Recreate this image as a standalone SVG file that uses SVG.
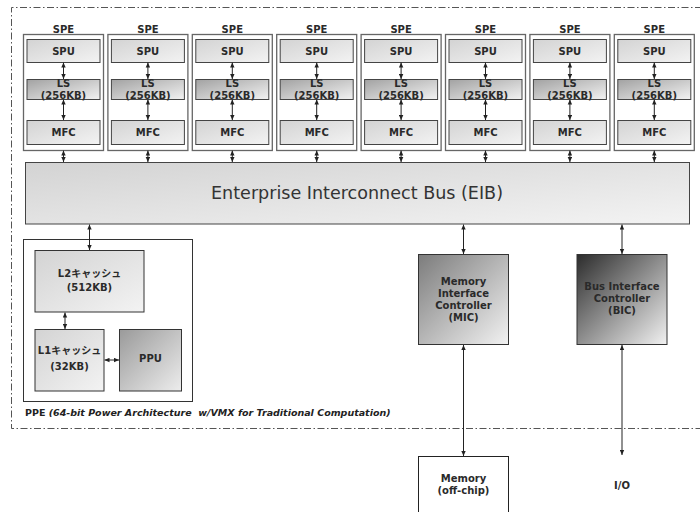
<svg xmlns="http://www.w3.org/2000/svg" width="700" height="512" viewBox="0 0 700 512">
  <defs>
    <linearGradient id="gLight" x1="0" y1="0" x2="1" y2="1">
      <stop offset="0" stop-color="#d3d3d3"/>
      <stop offset="1" stop-color="#f3f3f3"/>
    </linearGradient>
    <linearGradient id="gMid" x1="0" y1="0" x2="1" y2="1">
      <stop offset="0" stop-color="#a2a2a2"/>
      <stop offset="1" stop-color="#f2f2f2"/>
    </linearGradient>
    <linearGradient id="gPpu" x1="0" y1="0" x2="1" y2="1">
      <stop offset="0" stop-color="#9a9a9a"/>
      <stop offset="1" stop-color="#ededed"/>
    </linearGradient>
    <linearGradient id="gMic" x1="0" y1="0" x2="1" y2="1">
      <stop offset="0" stop-color="#7c7c7c"/>
      <stop offset="1" stop-color="#f2f2f2"/>
    </linearGradient>
    <linearGradient id="gBic" x1="0" y1="0" x2="1" y2="1">
      <stop offset="0" stop-color="#2c2c2c"/>
      <stop offset="1" stop-color="#f2f2f2"/>
    </linearGradient>
    <marker id="ah" viewBox="0 0 5 5" refX="5" refY="2.5" markerWidth="5" markerHeight="5" markerUnits="userSpaceOnUse" orient="auto-start-reverse">
      <path d="M0,0.3 L5,2.5 L0,4.7 z" fill="#222"/>
    </marker>
    <style>
      .lbl { font-family: "DejaVu Sans", "Noto Sans CJK JP", sans-serif; font-weight: bold; font-size: 10px; fill: #2a2a2a; text-anchor: middle; }
      .spe { fill: #fff; stroke: #666; stroke-width: 1.3; }
      .unit { fill: url(#gLight); stroke: #444; stroke-width: 1; }
      .ls { fill: url(#gMid); stroke: #444; stroke-width: 1; }
      .box { stroke: #333; stroke-width: 1; }
      .wire { stroke: #222; stroke-width: 1; fill: none; marker-start: url(#ah); marker-end: url(#ah); }
    </style>
  </defs>

  <rect width="700" height="512" fill="#fff"/>

  <!-- chip boundary (dash-dot) -->
  <path d="M702,7.5 H11.5 V428.5 H702" fill="none" stroke="#555" stroke-width="1" stroke-dasharray="7 2.5 1.5 2.5"/>

  <!-- eight SPE blocks -->
  <g id="spe0" transform="translate(23.5,0)">
    <rect class="spe" x="0" y="34.5" width="80" height="116"/>
    <text class="lbl" x="40" y="32.5">SPE</text>
    <rect class="unit" x="3.5" y="39.5" width="73" height="23"/><text class="lbl" x="40" y="55">SPU</text>
    <rect class="ls" x="3.5" y="79.5" width="73" height="20"/><text class="lbl" x="40" y="87">LS</text><text class="lbl" x="40" y="99">(256KB)</text>
    <rect class="unit" x="3.5" y="120.5" width="73" height="24"/><text class="lbl" x="40" y="136">MFC</text>
  </g>
  <g id="spe1" transform="translate(107.9,0)">
    <rect class="spe" x="0" y="34.5" width="80" height="116"/>
    <text class="lbl" x="40" y="32.5">SPE</text>
    <rect class="unit" x="3.5" y="39.5" width="73" height="23"/><text class="lbl" x="40" y="55">SPU</text>
    <rect class="ls" x="3.5" y="79.5" width="73" height="20"/><text class="lbl" x="40" y="87">LS</text><text class="lbl" x="40" y="99">(256KB)</text>
    <rect class="unit" x="3.5" y="120.5" width="73" height="24"/><text class="lbl" x="40" y="136">MFC</text>
  </g>
  <g id="spe2" transform="translate(192.3,0)">
    <rect class="spe" x="0" y="34.5" width="80" height="116"/>
    <text class="lbl" x="40" y="32.5">SPE</text>
    <rect class="unit" x="3.5" y="39.5" width="73" height="23"/><text class="lbl" x="40" y="55">SPU</text>
    <rect class="ls" x="3.5" y="79.5" width="73" height="20"/><text class="lbl" x="40" y="87">LS</text><text class="lbl" x="40" y="99">(256KB)</text>
    <rect class="unit" x="3.5" y="120.5" width="73" height="24"/><text class="lbl" x="40" y="136">MFC</text>
  </g>
  <g id="spe3" transform="translate(276.7,0)">
    <rect class="spe" x="0" y="34.5" width="80" height="116"/>
    <text class="lbl" x="40" y="32.5">SPE</text>
    <rect class="unit" x="3.5" y="39.5" width="73" height="23"/><text class="lbl" x="40" y="55">SPU</text>
    <rect class="ls" x="3.5" y="79.5" width="73" height="20"/><text class="lbl" x="40" y="87">LS</text><text class="lbl" x="40" y="99">(256KB)</text>
    <rect class="unit" x="3.5" y="120.5" width="73" height="24"/><text class="lbl" x="40" y="136">MFC</text>
  </g>
  <g id="spe4" transform="translate(361.1,0)">
    <rect class="spe" x="0" y="34.5" width="80" height="116"/>
    <text class="lbl" x="40" y="32.5">SPE</text>
    <rect class="unit" x="3.5" y="39.5" width="73" height="23"/><text class="lbl" x="40" y="55">SPU</text>
    <rect class="ls" x="3.5" y="79.5" width="73" height="20"/><text class="lbl" x="40" y="87">LS</text><text class="lbl" x="40" y="99">(256KB)</text>
    <rect class="unit" x="3.5" y="120.5" width="73" height="24"/><text class="lbl" x="40" y="136">MFC</text>
  </g>
  <g id="spe5" transform="translate(445.5,0)">
    <rect class="spe" x="0" y="34.5" width="80" height="116"/>
    <text class="lbl" x="40" y="32.5">SPE</text>
    <rect class="unit" x="3.5" y="39.5" width="73" height="23"/><text class="lbl" x="40" y="55">SPU</text>
    <rect class="ls" x="3.5" y="79.5" width="73" height="20"/><text class="lbl" x="40" y="87">LS</text><text class="lbl" x="40" y="99">(256KB)</text>
    <rect class="unit" x="3.5" y="120.5" width="73" height="24"/><text class="lbl" x="40" y="136">MFC</text>
  </g>
  <g id="spe6" transform="translate(529.9,0)">
    <rect class="spe" x="0" y="34.5" width="80" height="116"/>
    <text class="lbl" x="40" y="32.5">SPE</text>
    <rect class="unit" x="3.5" y="39.5" width="73" height="23"/><text class="lbl" x="40" y="55">SPU</text>
    <rect class="ls" x="3.5" y="79.5" width="73" height="20"/><text class="lbl" x="40" y="87">LS</text><text class="lbl" x="40" y="99">(256KB)</text>
    <rect class="unit" x="3.5" y="120.5" width="73" height="24"/><text class="lbl" x="40" y="136">MFC</text>
  </g>
  <g id="spe7" transform="translate(614.3,0)">
    <rect class="spe" x="0" y="34.5" width="80" height="116"/>
    <text class="lbl" x="40" y="32.5">SPE</text>
    <rect class="unit" x="3.5" y="39.5" width="73" height="23"/><text class="lbl" x="40" y="55">SPU</text>
    <rect class="ls" x="3.5" y="79.5" width="73" height="20"/><text class="lbl" x="40" y="87">LS</text><text class="lbl" x="40" y="99">(256KB)</text>
    <rect class="unit" x="3.5" y="120.5" width="73" height="24"/><text class="lbl" x="40" y="136">MFC</text>
  </g>

  <!-- element interconnect bus -->
  <g id="eib">
    <rect x="25.5" y="162.5" width="664" height="61.5" fill="url(#gLight)" stroke="#444" stroke-width="1"/>
    <text x="357" y="198.5" font-family="'DejaVu Sans', sans-serif" font-size="17" fill="#333" text-anchor="middle" textLength="292" lengthAdjust="spacingAndGlyphs">Enterprise Interconnect Bus (EIB)</text>
  </g>

  <!-- PowerPC element -->
  <g id="ppe">
    <rect x="23.5" y="239.5" width="169" height="162" fill="#fff" stroke="#333" stroke-width="1"/>
    <text x="25" y="416" font-family="'DejaVu Sans', sans-serif" font-weight="bold" font-size="9.5" fill="#222">PPE <tspan font-style="italic">(64-bit Power Architecture&#160; w/VMX for Traditional Computation)</tspan></text>
  </g>
  <g id="l2">
    <rect class="box" x="35" y="250.5" width="109" height="61.5" fill="url(#gLight)"/>
    <text class="lbl" x="89.5" y="277">L2キャッシュ</text>
    <text class="lbl" x="89.5" y="290.5">(512KB)</text>
  </g>
  <g id="l1">
    <rect class="box" x="35" y="329.5" width="69" height="61.5" fill="url(#gLight)"/>
    <text class="lbl" x="69.5" y="353.5">L1キャッシュ</text>
    <text class="lbl" x="69.5" y="369.5">(32KB)</text>
  </g>
  <g id="ppu">
    <rect class="box" x="119.5" y="329.5" width="62" height="61.5" fill="url(#gPpu)"/>
    <text class="lbl" x="150.5" y="361.5">PPU</text>
  </g>

  <!-- I/O controllers -->
  <g id="mic">
    <rect class="box" x="418.5" y="254.5" width="90" height="90" fill="url(#gMic)"/>
    <text class="lbl" x="463.5" y="285">Memory</text>
    <text class="lbl" x="463.5" y="297">Interface</text>
    <text class="lbl" x="463.5" y="309">Controller</text>
    <text class="lbl" x="463.5" y="321">(MIC)</text>
  </g>
  <g id="bic">
    <rect class="box" x="577" y="254.5" width="90" height="90" fill="url(#gBic)"/>
    <text class="lbl" x="622" y="290">Bus Interface</text>
    <text class="lbl" x="622" y="302">Controller</text>
    <text class="lbl" x="622" y="314">(BIC)</text>
  </g>

  <!-- off-chip -->
  <g id="memory">
    <rect x="418.5" y="456.5" width="90" height="70" fill="#fff" stroke="#222" stroke-width="1"/>
    <text class="lbl" x="463.5" y="481.5">Memory</text>
    <text class="lbl" x="463.5" y="494">(off-chip)</text>
  </g>
  <g id="io">
    <text class="lbl" x="622" y="488.5">I/O</text>
  </g>

  <!-- connectors -->
  <g id="connectors">
    <path class="wire" d="M63.5,62.5 V79"/><path class="wire" d="M63.5,99.5 V120"/><path class="wire" d="M63.5,150.5 V162"/>
    <path class="wire" d="M147.9,62.5 V79"/><path class="wire" d="M147.9,99.5 V120"/><path class="wire" d="M147.9,150.5 V162"/>
    <path class="wire" d="M232.3,62.5 V79"/><path class="wire" d="M232.3,99.5 V120"/><path class="wire" d="M232.3,150.5 V162"/>
    <path class="wire" d="M316.7,62.5 V79"/><path class="wire" d="M316.7,99.5 V120"/><path class="wire" d="M316.7,150.5 V162"/>
    <path class="wire" d="M401.1,62.5 V79"/><path class="wire" d="M401.1,99.5 V120"/><path class="wire" d="M401.1,150.5 V162"/>
    <path class="wire" d="M485.5,62.5 V79"/><path class="wire" d="M485.5,99.5 V120"/><path class="wire" d="M485.5,150.5 V162"/>
    <path class="wire" d="M569.9,62.5 V79"/><path class="wire" d="M569.9,99.5 V120"/><path class="wire" d="M569.9,150.5 V162"/>
    <path class="wire" d="M654.3,62.5 V79"/><path class="wire" d="M654.3,99.5 V120"/><path class="wire" d="M654.3,150.5 V162"/>
    <path class="wire" d="M89.5,224.5 V250"/>
    <path class="wire" d="M65,312.5 V329"/>
    <path class="wire" d="M104.5,360 H119"/>
    <path class="wire" d="M463.5,224.5 V254"/>
    <path class="wire" d="M622,224.5 V254"/>
    <path class="wire" d="M463.5,345 V456"/>
    <path class="wire" d="M622,345 V455" stroke="#666"/>
  </g>
</svg>
